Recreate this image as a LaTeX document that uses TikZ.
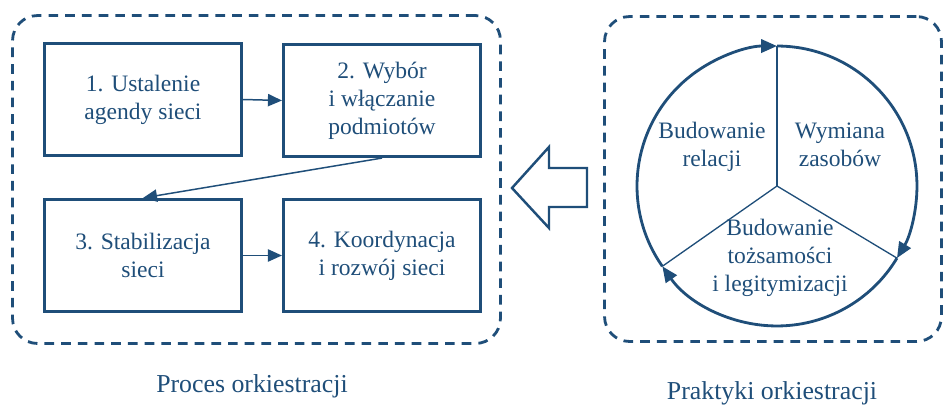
\documentclass[tikz,border=0pt]{standalone}
\usepackage{fontspec}
\setmainfont{Liberation Serif}
\newfontfamily\orkfont{Liberation Serif}
\usetikzlibrary{arrows.meta}
\definecolor{orkblue}{RGB}{31,78,121}

\begin{document}
\begin{tikzpicture}[x=0.02cm, y=-0.02cm,
    every node/.style={text=orkblue, font=\orkfont\fontsize{13.4}{16}\selectfont, align=center},
    podpis/.style={font=\orkfont\fontsize{14.7}{17}\selectfont},
    etap/.style={draw=orkblue, line width=1.5pt, minimum width=3.95cm, minimum height=2.25cm, inner sep=0pt},
    ramka/.style={draw=orkblue, line width=1.6pt, dash pattern=on 5.5pt off 4pt, rounded corners=0.5cm, inner sep=0pt},
    krok/.style={draw=orkblue, line width=0.85pt, -{Triangle[length=8pt,width=7pt]}},
    obieg/.style={draw=orkblue, line width=1.6pt, -{Triangle[length=9pt,width=7.5pt]}},
    szprycha/.style={draw=orkblue, line width=0.75pt}]
        \useasboundingbox (0,0) rectangle (944,406);
        % Left frame: process
        \node[ramka, minimum width=9.76cm, minimum height=6.56cm] (proc) at (256.5,179.5) {};
        \node[podpis] (lproc) at (252,386) {Proces orkiestracji};
        % Four stages
        \node[etap] (b1) at (143,99.5) {1. Ustalenie\\agendy sieci};
        \node[etap] (b2) at (382,100.5) {2. Wybór\\i włączanie\\podmiotów};
        \node[etap] (b3) at (143,255.5) {3. Stabilizacja\\sieci};
        \node[etap] (b4) at (382,255.5) {4. Koordynacja\\i rozwój sieci};
        \draw[krok] (b1.east) -- (b2.west);
        \draw[krok] (b2.south) -- (b3.north);
        \draw[krok] (b3.east) -- (b4.west);
        % Hollow arrow between the frames
        \draw[draw=orkblue, line width=1.4pt, line join=miter]
            (512,188) -- (549,147) -- (549,168) -- (587,168) -- (587,207) -- (549,207) -- (549,228) -- cycle;
        % Right frame: practices
        \node[ramka, minimum width=6.74cm, minimum height=6.5cm] (prak) at (773,179) {};
        \node[podpis] (lprak) at (772,393) {Praktyki orkiestracji};
        % Cycle of three practices
        \coordinate (c) at (777,186);
        \draw[szprycha] (c) -- ++(90:2.8cm);
        \draw[szprycha] (c) -- ++(-31:2.8cm);
        \draw[szprycha] (c) -- ++(215:2.8cm);
        \draw[obieg] (c) ++(215:2.8cm) arc[start angle=215, end angle=90, radius=2.8cm];
        \draw[obieg] (c) ++(90:2.8cm) arc[start angle=90, end angle=-31, radius=2.8cm];
        \draw[obieg] (c) ++(-31:2.8cm) arc[start angle=-31, end angle=-145, radius=2.8cm];
        \node (rel) at (712,147) {Budowanie\\relacji};
        \node (zas) at (840,145) {Wymiana\\zasobów};
        \node (toz) at (780,258) {Budowanie\\tożsamości\\i legitymizacji};
      \end{tikzpicture}
\end{document}
